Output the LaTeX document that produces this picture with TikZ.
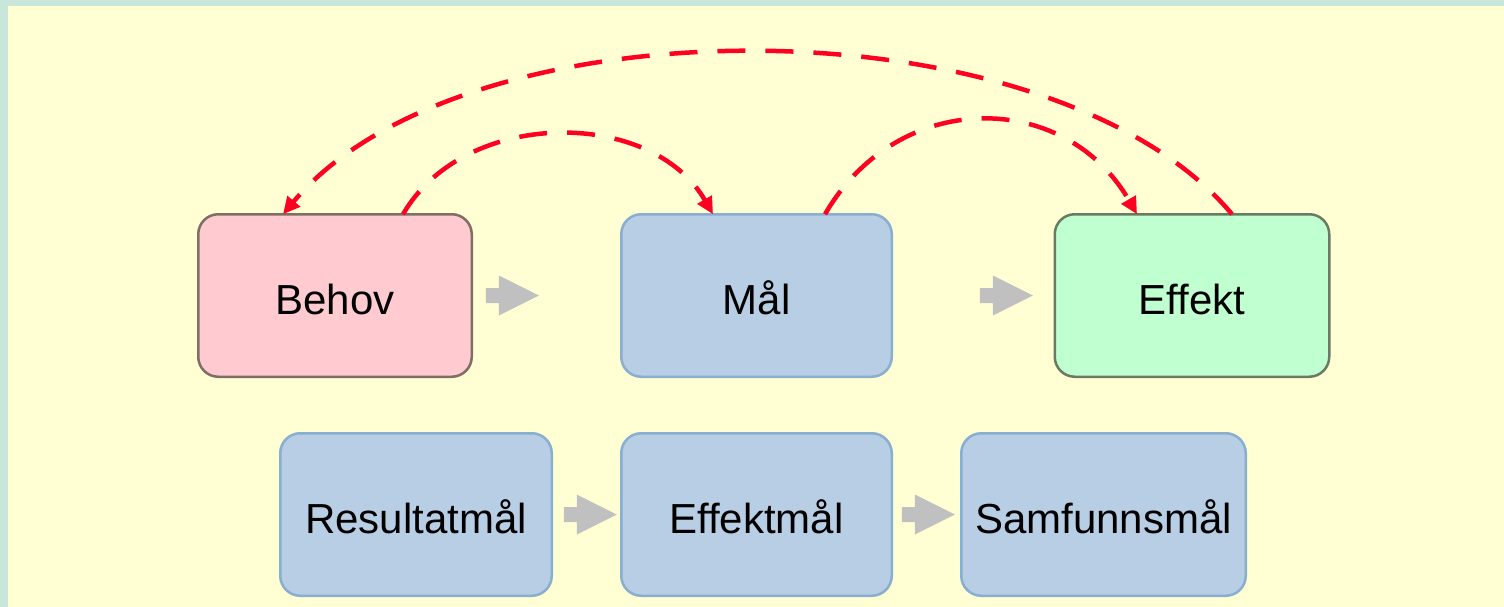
\documentclass[tikz,border=0pt]{standalone}
\usepackage{fontspec}
\setmainfont{Liberation Sans}
\usetikzlibrary{arrows.meta}
\definecolor{bgyellow}{HTML}{FFFFD3}
\definecolor{bgteal}{HTML}{C8E6DA}
\definecolor{pinkfill}{HTML}{FFCAD0}
\definecolor{pinkline}{HTML}{7D6E66}
\definecolor{bluefill}{HTML}{B8CEE4}
\definecolor{blueline}{HTML}{88AED0}
\definecolor{greenfill}{HTML}{C0FFD0}
\definecolor{greenline}{HTML}{6A7A64}
\definecolor{arrowgray}{HTML}{C0C0C0}
\definecolor{arcred}{HTML}{FF0022}
\begin{document}
\begin{tikzpicture}[x=1pt,y=-1pt,
  box/.style={draw, line width=2.5pt, rounded corners=20pt, minimum height=162.5pt,
    inner sep=0pt, outer sep=0pt, font=\fontsize{42}{50}\selectfont, text=black,
    text height=37pt, text depth=0pt},
  pinkbox/.style={box, fill=pinkfill, draw=pinkline},
  bluebox/.style={box, fill=bluefill, draw=blueline},
  greenbox/.style={box, fill=greenfill, draw=greenline},
  redarc/.style={draw=arcred, line width=4.5pt, dash pattern=on 28pt off 20pt,
    -{Triangle[length=17pt,width=16pt]}},
  grayarrow/.pic={\fill[arrowgray] (0,-7.5) -- (13,-7.5) -- (13,-20) -- (53,0) -- (13,20) -- (13,7.5) -- (0,7.5) -- cycle;}
]
\useasboundingbox (0,0) rectangle (1504,607);
\fill[bgyellow] (0,0) rectangle (1504,607);
\fill[bgteal] (0,0) rectangle (8,607);
\fill[bgteal] (0,0) rectangle (1504,6);

\node[pinkbox, minimum width=273.5pt] (behov) at (335,295.5) {Behov};
\node[bluebox, minimum width=270.5pt] (maal) at (756.5,295.5) {Mål};
\node[greenbox, minimum width=274.5pt] (effekt) at (1192,295.5) {Effekt};

\node[bluebox, minimum width=271.5pt] (resultat) at (416,514.5) {Resultatmål};
\node[bluebox, minimum width=270.5pt] (effektmaal) at (756.5,514.5) {Effektmål};
\node[bluebox, minimum width=284.5pt] (samfunn) at (1103.5,514.5) {Samfunnsmål};

\pic at ([xshift=14pt]behov.east) {grayarrow};
\pic at ([xshift=88pt]maal.east) {grayarrow};
\pic at ([xshift=12pt]resultat.east) {grayarrow};
\pic at ([xshift=10pt]effektmaal.east) {grayarrow};

\draw[redarc] ([xshift=68pt]behov.north) .. controls +(61.5,-106.5) and +(-61.5,-106.5) .. ([xshift=-43.5pt]maal.north);
\draw[redarc] ([xshift=68.5pt]maal.north) .. controls +(72.5,-125.5) and +(-72.5,-125.5) .. ([xshift=-55pt]effekt.north);
\draw[redarc] ([xshift=40pt]effekt.north) .. controls +(-181,-216) and +(181,-216) .. ([xshift=-52pt]behov.north);
\end{tikzpicture}
\end{document}
